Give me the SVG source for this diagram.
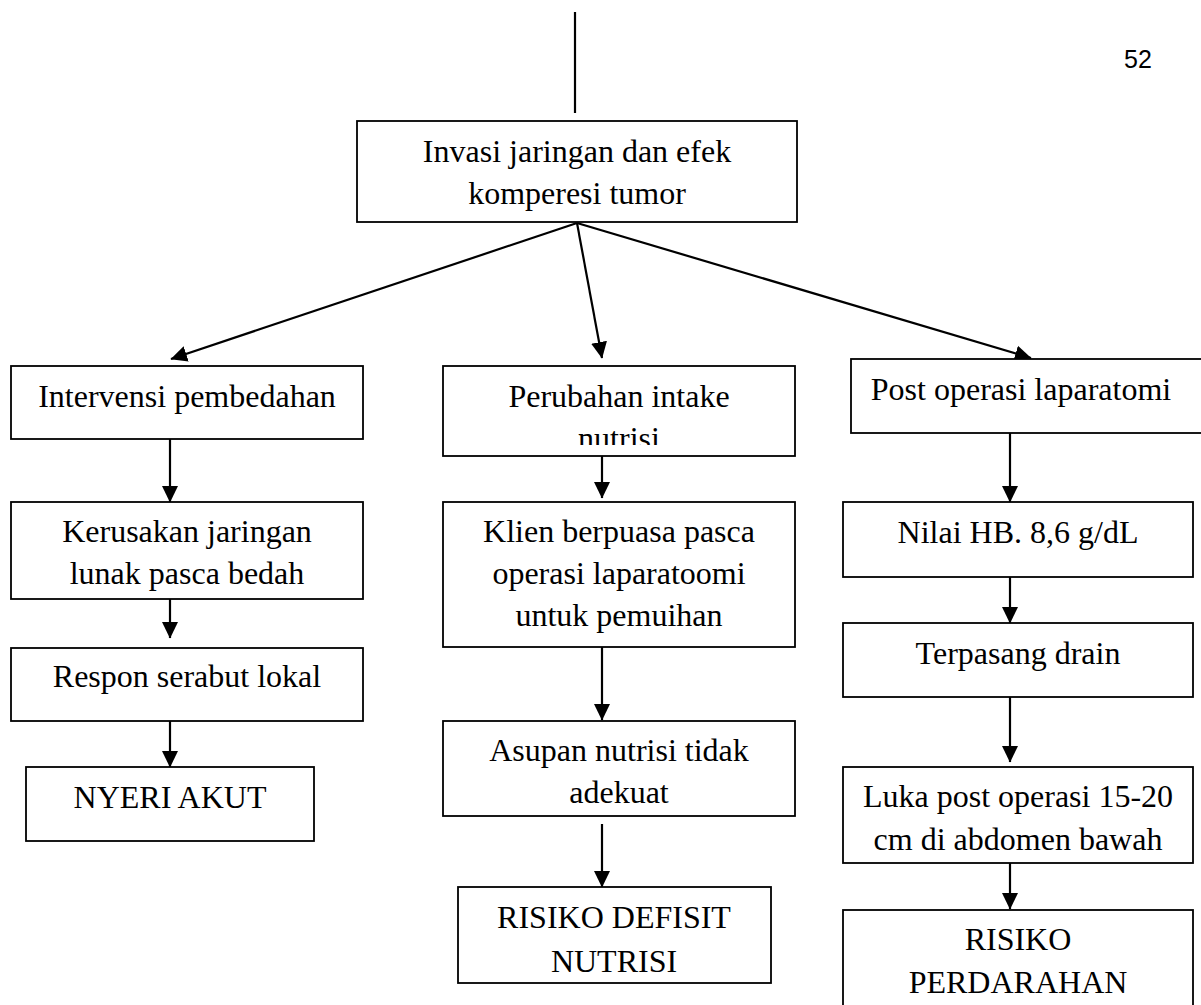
<svg xmlns="http://www.w3.org/2000/svg" width="1201" height="1005" viewBox="0 0 1201 1005">
<style>
.box{fill:#fff;stroke:#000;stroke-width:1.8}
.t{font-family:"Liberation Serif","Times New Roman",serif;font-size:32px;fill:#000;text-anchor:middle}
.c{stroke:#000;stroke-width:2.2;fill:none}
.pg{font-family:"Liberation Sans",Arial,sans-serif;font-size:25px;fill:#000}
</style>
<defs>
<marker id="ah" markerUnits="userSpaceOnUse" markerWidth="17" markerHeight="17" viewBox="0 0 17 17" refX="16" refY="8.5" orient="auto">
<path d="M0,0.5 L16.5,8.5 L0,16.5 Z" fill="#000"/>
</marker>
<clipPath id="clipNut"><rect x="443" y="366" width="352" height="79"/></clipPath>
</defs>
<rect width="1201" height="1005" fill="#fff"/>
<text class="pg" x="1124" y="68">52</text>

<g id="connectors">
<line class="c" x1="575" y1="12" x2="575" y2="113"/>
<line class="c" x1="577" y1="223" x2="171" y2="359" marker-end="url(#ah)"/>
<line class="c" x1="577" y1="223" x2="602" y2="358" marker-end="url(#ah)"/>
<line class="c" x1="577" y1="223" x2="1031" y2="358" marker-end="url(#ah)"/>
<line class="c" x1="170" y1="439" x2="170" y2="502" marker-end="url(#ah)"/>
<line class="c" x1="170" y1="599" x2="170" y2="638" marker-end="url(#ah)"/>
<line class="c" x1="170" y1="721" x2="170" y2="767" marker-end="url(#ah)"/>
<line class="c" x1="602" y1="456" x2="602" y2="498" marker-end="url(#ah)"/>
<line class="c" x1="602" y1="647" x2="602" y2="720" marker-end="url(#ah)"/>
<line class="c" x1="602" y1="824" x2="602" y2="887" marker-end="url(#ah)"/>
<line class="c" x1="1010" y1="433" x2="1010" y2="502" marker-end="url(#ah)"/>
<line class="c" x1="1010" y1="577" x2="1010" y2="623" marker-end="url(#ah)"/>
<line class="c" x1="1010" y1="697" x2="1010" y2="762" marker-end="url(#ah)"/>
<line class="c" x1="1010" y1="863" x2="1010" y2="909" marker-end="url(#ah)"/>
</g>

<g id="n-invasi">
<rect class="box" x="357" y="121" width="440" height="101"/>
<text class="t" x="577" y="162">Invasi jaringan dan efek</text>
<text class="t" x="577" y="204">komperesi tumor</text>
</g>

<g id="n-intervensi">
<rect class="box" x="11" y="366" width="352" height="73"/>
<text class="t" x="187" y="407">Intervensi pembedahan</text>
</g>
<g id="n-kerusakan">
<rect class="box" x="11" y="502" width="352" height="97"/>
<text class="t" x="187" y="542">Kerusakan jaringan</text>
<text class="t" x="187" y="584">lunak pasca bedah</text>
</g>
<g id="n-respon">
<rect class="box" x="11" y="648" width="352" height="73"/>
<text class="t" x="187" y="687">Respon serabut lokal</text>
</g>
<g id="n-nyeri">
<rect class="box" x="26" y="767" width="288" height="74"/>
<text class="t" x="170" y="808">NYERI AKUT</text>
</g>

<g id="n-perubahan">
<rect class="box" x="443" y="366" width="352" height="90"/>
<text class="t" x="619" y="407">Perubahan intake</text>
<text class="t" x="619" y="449" clip-path="url(#clipNut)">nutrisi</text>
</g>
<g id="n-klien">
<rect class="box" x="443" y="502" width="352" height="145"/>
<text class="t" x="619" y="542">Klien berpuasa pasca</text>
<text class="t" x="619" y="584">operasi laparatoomi</text>
<text class="t" x="619" y="626">untuk pemuihan</text>
</g>
<g id="n-asupan">
<rect class="box" x="443" y="721" width="352" height="95"/>
<text class="t" x="619" y="761">Asupan nutrisi tidak</text>
<text class="t" x="619" y="803">adekuat</text>
</g>
<g id="n-defisit">
<rect class="box" x="458" y="887" width="313" height="96"/>
<text class="t" x="614" y="928">RISIKO DEFISIT</text>
<text class="t" x="614" y="972">NUTRISI</text>
</g>

<g id="n-post">
<rect class="box" x="851" y="359" width="360" height="74"/>
<text class="t" x="1021" y="400">Post operasi laparatomi</text>
</g>
<g id="n-hb">
<rect class="box" x="843" y="502" width="350" height="75"/>
<text class="t" x="1018" y="543">Nilai HB. 8,6 g/dL</text>
</g>
<g id="n-drain">
<rect class="box" x="843" y="623" width="350" height="74"/>
<text class="t" x="1018" y="664">Terpasang drain</text>
</g>
<g id="n-luka">
<rect class="box" x="843" y="767" width="350" height="96"/>
<text class="t" x="1018" y="807">Luka post operasi 15-20</text>
<text class="t" x="1018" y="850">cm di abdomen bawah</text>
</g>
<g id="n-perdarahan">
<rect class="box" x="843" y="910" width="350" height="110"/>
<text class="t" x="1018" y="950">RISIKO</text>
<text class="t" x="1018" y="993">PERDARAHAN</text>
</g>
</svg>
